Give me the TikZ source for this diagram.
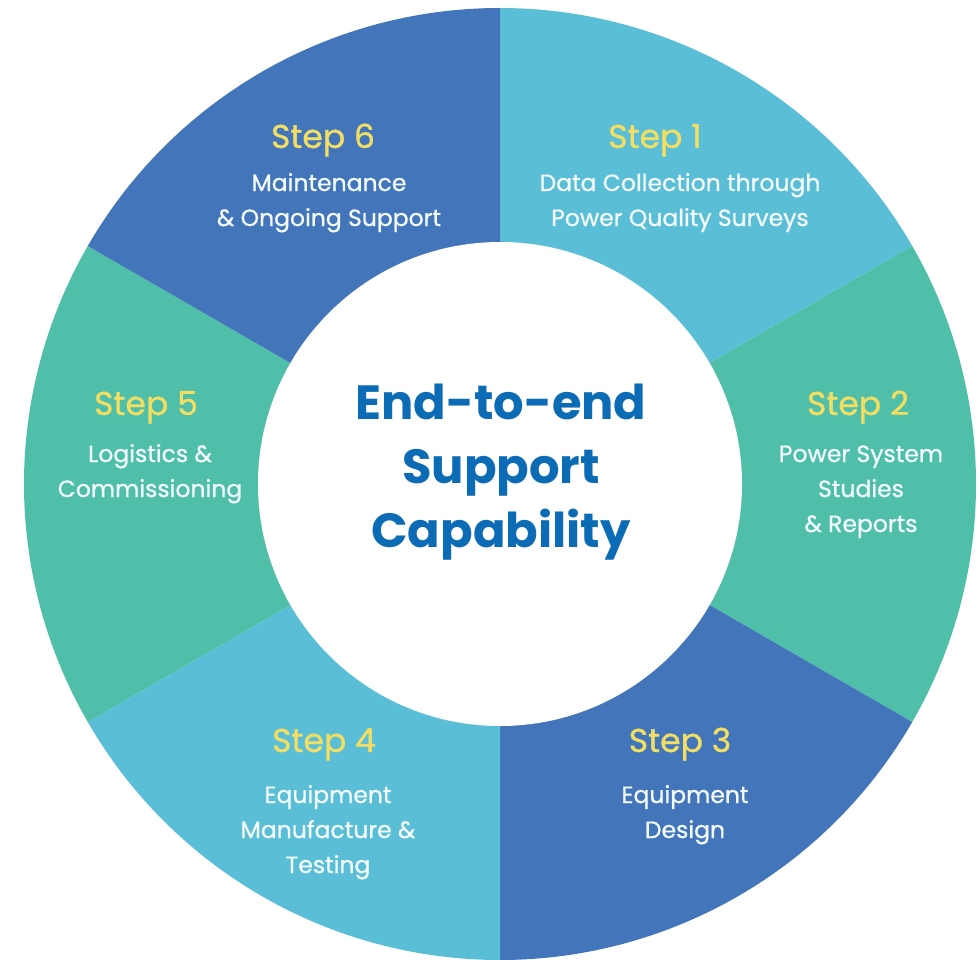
\documentclass[tikz,border=0pt]{standalone}
\usepackage{fontspec}
\setmainfont{Poppins}
\newfontfamily\medfont{Poppins}[UprightFeatures={FakeBold=0.9}]
\definecolor{cyanseg}{HTML}{5ABFD6}
\definecolor{tealseg}{HTML}{4FBFAA}
\definecolor{blueseg}{HTML}{4275BA}
\definecolor{stepyellow}{HTML}{F3DE64}
\definecolor{capblue}{HTML}{0C6BB5}
\definecolor{offwhite}{HTML}{F2FAFB}
\tikzset{
  steptitle/.style={text=stepyellow,font=\medfont\fontsize{33}{33}\selectfont,inner sep=0pt,anchor=base},
  stepbody/.style={text=offwhite,font=\medfont\fontsize{23.5}{35}\selectfont,align=center,inner sep=0pt,anchor=base},
  captext/.style={text=capblue,font=\bfseries\fontsize{48}{64}\selectfont,align=center,inner sep=0pt,anchor=base}
}
\begin{document}
\begin{tikzpicture}[x=1pt,y=-1pt,line join=round]
\useasboundingbox (0,0) rectangle (980,960);
% ring of six steps
\foreach \s/\c in {-90/cyanseg,-30/tealseg,30/blueseg,90/cyanseg,150/tealseg,210/blueseg}
  \fill[\c] (500,484) -- ++(\s:476) arc[start angle=\s,delta angle=60,radius=476] -- cycle;
\fill[white] (500,484) circle[radius=242];
% hub (base = last line)
\node[captext] (hub) at (501,547) {End-to-end\\Support\\Capability};
% step titles
\node[steptitle] (s1) at (655,148) {Step 1};
\node[steptitle] (s2) at (858,415) {Step 2};
\node[steptitle] (s3) at (680,752) {Step 3};
\node[steptitle] (s4) at (324,752) {Step 4};
\node[steptitle] (s5) at (146,415) {Step 5};
\node[steptitle] (s6) at (323,148) {Step 6};
% step texts
\node[stepbody] (d1) at (680,226) {Data Collection through\\Power Quality Surveys};
\node[stepbody] (d2) at (861,532) {Power System\\Studies\\\& Reports};
\node[stepbody] (d3) at (685,838) {Equipment\\Design};
\node[stepbody] (d4) at (328,873) {Equipment\\Manufacture \&\\Testing};
\node[stepbody] (d5) at (150,497) {Logistics \&\\Commissioning};
\node[stepbody] (d6) at (329,226) {Maintenance\\\& Ongoing Support};
\end{tikzpicture}
\end{document}
